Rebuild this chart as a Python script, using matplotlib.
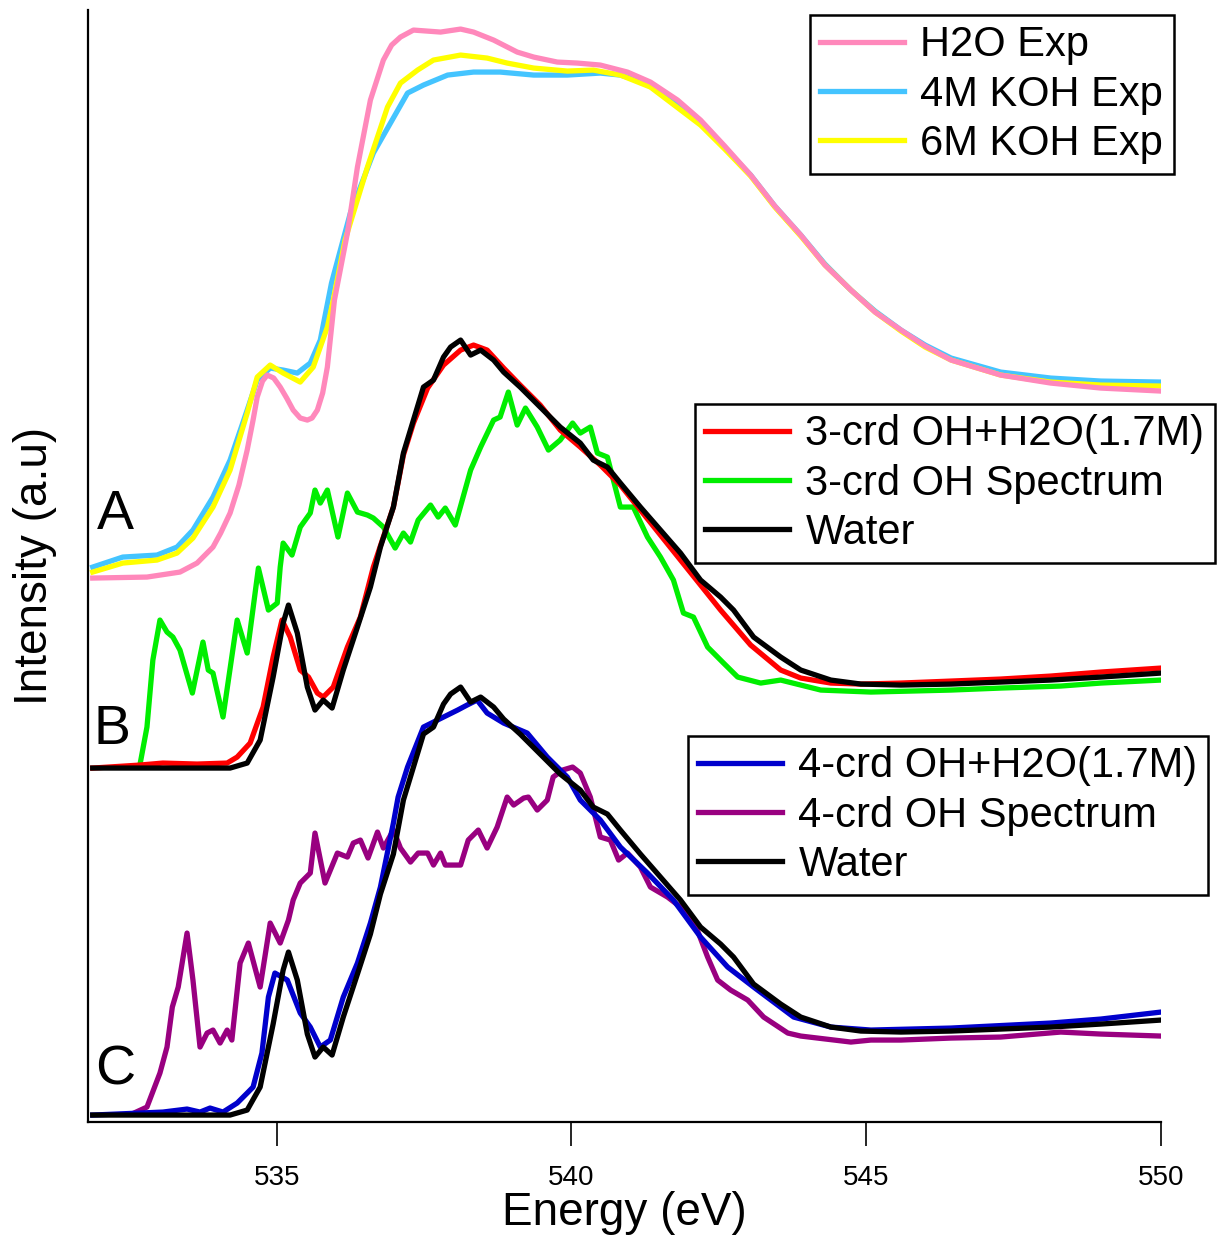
import matplotlib
matplotlib.use("Agg")
import matplotlib.pyplot as plt
from matplotlib.lines import Line2D

plt.rcParams['font.family'] = ['Liberation Sans', 'DejaVu Sans']

# ---- panel A : experimental spectra ----
h2o_e = [531.88, 532.80, 533.36, 533.65, 533.92, 534.05, 534.21, 534.36, 534.50, 534.60,
         534.67, 534.76, 534.84, 534.95, 535.06, 535.17, 535.28, 535.40, 535.52, 535.60,
         535.69, 535.78, 535.86, 535.98, 536.20, 536.37, 536.59, 536.81, 536.95, 537.10,
         537.32, 537.78, 538.12, 538.34, 538.68, 539.08, 539.36, 539.76, 540.10, 540.49,
         540.95, 541.34, 541.80, 542.19, 542.60, 543.04, 543.45, 543.89, 544.30, 544.74,
         545.15, 545.59, 546.00, 546.44, 547.28, 548.13, 548.98, 550.00]
h2o_i = [0.00, 0.01, 0.06, 0.15, 0.31, 0.45, 0.65, 0.93, 1.28, 1.58,
         1.81, 1.97, 2.03, 2.00, 1.91, 1.80, 1.68, 1.60, 1.58, 1.60,
         1.68, 1.85, 2.11, 2.78, 3.45, 4.11, 4.78, 5.18, 5.33, 5.41,
         5.48, 5.46, 5.49, 5.46, 5.38, 5.26, 5.21, 5.16, 5.15, 5.13,
         5.06, 4.96, 4.78, 4.58, 4.32, 4.03, 3.72, 3.43, 3.13, 2.88,
         2.66, 2.48, 2.32, 2.18, 2.03, 1.95, 1.90, 1.87]

koh4_e = [531.88, 532.39, 532.97, 533.31, 533.58, 533.92, 534.21, 534.50, 534.67, 534.89,
          535.11, 535.35, 535.57, 535.74, 535.93, 536.25, 536.64, 536.93, 537.22, 537.49,
          537.90, 538.34, 538.79, 539.36, 539.93, 540.49, 540.83, 541.22, 541.63, 542.19,
          542.60, 543.04, 543.45, 543.89, 544.30, 544.74, 545.15, 545.59, 546.00, 546.44,
          547.28, 548.13, 548.98, 550.00]
koh4_i = [0.11, 0.21, 0.23, 0.31, 0.48, 0.81, 1.18, 1.68, 1.98, 2.10,
          2.08, 2.05, 2.15, 2.38, 2.95, 3.65, 4.25, 4.55, 4.85, 4.93,
          5.03, 5.06, 5.06, 5.03, 5.03, 5.05, 5.03, 4.96, 4.81, 4.55,
          4.30, 4.03, 3.72, 3.43, 3.14, 2.88, 2.67, 2.48, 2.33, 2.20,
          2.06, 2.00, 1.97, 1.96]

koh6_e = [531.88, 532.39, 532.97, 533.31, 533.58, 533.92, 534.21, 534.50, 534.67, 534.89,
          535.11, 535.40, 535.62, 535.86, 535.96, 536.16, 536.54, 536.88, 537.10, 537.39,
          537.66, 538.12, 538.57, 538.91, 539.36, 539.93, 540.37, 540.83, 541.34, 542.19,
          542.60, 543.04, 543.45, 543.89, 544.30, 544.74, 545.15, 545.59, 546.00, 546.44,
          547.28, 548.13, 548.98, 550.00]
koh6_i = [0.06, 0.15, 0.18, 0.25, 0.40, 0.71, 1.08, 1.65, 2.01, 2.13,
          2.05, 1.96, 2.11, 2.51, 2.78, 3.38, 4.11, 4.71, 4.95, 5.08,
          5.18, 5.23, 5.20, 5.15, 5.10, 5.07, 5.08, 5.03, 4.91, 4.53,
          4.29, 4.02, 3.71, 3.42, 3.13, 2.88, 2.66, 2.47, 2.31, 2.18,
          2.03, 1.96, 1.93, 1.92]

# ---- water (used in B and C) ----
water_e = [531.88, 534.21, 534.50, 534.72, 534.94, 535.11, 535.20, 535.35, 535.52, 535.65,
           535.79, 535.94, 536.13, 536.37, 536.59, 536.76, 536.98, 537.15, 537.32, 537.49,
           537.66, 537.83, 537.95, 538.12, 538.29, 538.46, 538.68, 538.85, 539.13, 539.47,
           539.81, 540.15, 540.37, 540.61, 540.83, 541.17, 541.51, 541.85, 542.19, 542.53,
           542.75, 543.09, 543.55, 543.89, 544.40, 544.91, 545.59, 546.44, 547.28, 548.13,
           548.98, 550.00]
water_i = [0.00, 0.00, 0.05, 0.28, 0.91, 1.45, 1.63, 1.35, 0.81, 0.58,
           0.68, 0.60, 0.98, 1.41, 1.81, 2.21, 2.61, 3.15, 3.48, 3.81,
           3.88, 4.11, 4.21, 4.28, 4.13, 4.18, 4.08, 3.96, 3.81, 3.61,
           3.41, 3.25, 3.08, 3.01, 2.85, 2.61, 2.38, 2.15, 1.88, 1.71,
           1.58, 1.31, 1.11, 0.98, 0.88, 0.84, 0.83, 0.84, 0.86, 0.88,
           0.91, 0.95]

# ---- panel B : 3-coordinated OH ----
mix3_e = [531.88, 532.68, 533.07, 533.65, 534.16, 534.33, 534.55, 534.77, 534.94, 535.09,
          535.23, 535.40, 535.54, 535.69, 535.79, 535.96, 536.20, 536.42, 536.64, 536.98,
          537.15, 537.32, 537.56, 537.83, 538.12, 538.34, 538.57, 538.85, 539.13, 539.47,
          539.81, 540.15, 540.49, 540.83, 541.17, 541.51, 541.85, 542.19, 542.53, 543.04,
          543.55, 543.89, 544.40, 544.91, 545.59, 546.44, 547.28, 548.13, 548.98, 550.00]
mix3_i = [0.00, 0.03, 0.05, 0.04, 0.05, 0.11, 0.25, 0.61, 1.11, 1.48,
          1.31, 0.98, 0.91, 0.75, 0.71, 0.81, 1.21, 1.51, 2.01, 2.61,
          3.13, 3.45, 3.80, 4.03, 4.18, 4.23, 4.18, 4.00, 3.83, 3.63,
          3.38, 3.21, 3.03, 2.83, 2.58, 2.33, 2.08, 1.83, 1.58, 1.23,
          0.98, 0.90, 0.85, 0.84, 0.85, 0.87, 0.89, 0.92, 0.96, 1.00]

oh3_e = [532.68, 532.80, 532.90, 533.02, 533.14, 533.24, 533.36, 533.57, 533.75, 533.84,
         533.92, 534.09, 534.33, 534.50, 534.69, 534.86, 535.01, 535.06, 535.11, 535.26,
         535.40, 535.57, 535.65, 535.74, 535.86, 536.04, 536.20, 536.37, 536.54, 536.64,
         536.81, 537.01, 537.15, 537.27, 537.40, 537.61, 537.74, 537.86, 538.03, 538.29,
         538.46, 538.68, 538.79, 538.93, 539.08, 539.22, 539.42, 539.61, 539.81, 540.02,
         540.15, 540.32, 540.44, 540.61, 540.83, 541.05, 541.29, 541.51, 541.73, 541.90,
         542.07, 542.31, 542.58, 542.82, 543.21, 543.55, 544.23, 545.08, 546.44, 547.28,
         548.30, 548.98, 550.00]
oh3_i = [0.03, 0.41, 1.08, 1.48, 1.36, 1.31, 1.18, 0.75, 1.26, 0.98,
         0.95, 0.51, 1.48, 1.15, 2.00, 1.58, 1.65, 2.01, 2.25, 2.13,
         2.41, 2.55, 2.78, 2.65, 2.78, 2.31, 2.75, 2.56, 2.53, 2.50,
         2.41, 2.20, 2.35, 2.26, 2.48, 2.63, 2.51, 2.60, 2.43, 2.98,
         3.21, 3.48, 3.51, 3.76, 3.43, 3.60, 3.41, 3.18, 3.28, 3.45,
         3.35, 3.41, 3.15, 3.11, 2.61, 2.61, 2.31, 2.11, 1.88, 1.55,
         1.51, 1.21, 1.05, 0.91, 0.85, 0.88, 0.78, 0.76, 0.78, 0.80,
         0.82, 0.85, 0.88]

# ---- panel C : 4-coordinated OH ----
mix4_e = [531.88, 532.68, 533.07, 533.48, 533.70, 533.87, 534.09, 534.33, 534.50, 534.60,
          534.75, 534.86, 534.97, 535.18, 535.40, 535.57, 535.74, 535.91, 536.13, 536.37,
          536.59, 536.76, 536.98, 537.06, 537.22, 537.49, 537.83, 538.07, 538.23, 538.40,
          538.57, 538.85, 539.25, 539.59, 539.93, 540.15, 540.49, 540.83, 541.29, 541.73,
          542.19, 542.65, 543.09, 543.77, 544.40, 545.08, 546.44, 548.13, 548.98, 550.00]
mix4_i = [0.00, 0.02, 0.03, 0.06, 0.03, 0.07, 0.03, 0.12, 0.22, 0.28,
          0.62, 1.18, 1.42, 1.35, 1.02, 0.88, 0.68, 0.75, 1.18, 1.52,
          1.92, 2.28, 2.92, 3.18, 3.48, 3.88, 3.98, 4.05, 4.10, 4.15,
          4.02, 3.92, 3.82, 3.58, 3.38, 3.15, 2.95, 2.68, 2.42, 2.15,
          1.78, 1.48, 1.28, 0.98, 0.88, 0.85, 0.87, 0.92, 0.96, 1.03]

oh4_e = [532.58, 532.80, 533.02, 533.14, 533.23, 533.33, 533.48, 533.58, 533.70, 533.82,
         533.92, 534.04, 534.16, 534.24, 534.38, 534.52, 534.72, 534.89, 535.06, 535.20,
         535.28, 535.40, 535.57, 535.65, 535.82, 536.03, 536.20, 536.30, 536.42, 536.55,
         536.71, 536.81, 536.98, 537.10, 537.27, 537.40, 537.56, 537.66, 537.78, 537.86,
         538.12, 538.25, 538.42, 538.57, 538.74, 538.91, 539.02, 539.19, 539.27, 539.42,
         539.59, 539.69, 539.85, 540.02, 540.15, 540.32, 540.49, 540.66, 540.80, 540.95,
         541.17, 541.34, 541.63, 541.85, 542.07, 542.31, 542.48, 542.70, 542.99, 543.26,
         543.67, 543.89, 544.74, 545.08, 545.59, 546.44, 547.28, 548.30, 548.98, 550.00]
oh4_i = [0.02, 0.08, 0.42, 0.68, 1.08, 1.28, 1.82, 1.35, 0.68, 0.82,
         0.85, 0.72, 0.85, 0.75, 1.52, 1.72, 1.28, 1.92, 1.72, 1.95,
         2.15, 2.32, 2.42, 2.82, 2.32, 2.62, 2.58, 2.72, 2.75, 2.57,
         2.83, 2.67, 2.85, 2.67, 2.53, 2.62, 2.62, 2.50, 2.62, 2.50,
         2.50, 2.75, 2.85, 2.67, 2.88, 3.18, 3.10, 3.17, 3.18, 3.05,
         3.15, 3.38, 3.45, 3.48, 3.42, 3.18, 2.78, 2.75, 2.55, 2.62,
         2.48, 2.28, 2.18, 2.08, 1.95, 1.58, 1.35, 1.25, 1.15, 0.98,
         0.82, 0.79, 0.73, 0.75, 0.75, 0.77, 0.78, 0.83, 0.81, 0.79]

# vertical stacking offsets of the three panels
off_a, off_b, off_c = 5.44, 3.54, 0.07

c_pink, c_sky, c_yel = '#FF88BB', '#44C4FF', '#FFFF00'
c_red, c_green, c_blk = '#FF0000', '#00EE00', '#000000'
c_blue, c_purp = '#0000CC', '#990080'
lw = 3.8


def shift(vals, off):
    return [v + off for v in vals]


fig = plt.figure(figsize=(12.19, 12.43), dpi=100)
ax = fig.add_axes([0.0722, 0.0973, 0.8802, 0.8946])

# A
ax.plot(koh4_e, shift(koh4_i, off_a), color=c_sky, lw=lw, solid_joinstyle='round')
ax.plot(koh6_e, shift(koh6_i, off_a), color=c_yel, lw=lw, solid_joinstyle='round')
ax.plot(h2o_e, shift(h2o_i, off_a), color=c_pink, lw=lw, solid_joinstyle='round')
# B
ax.plot(oh3_e, shift(oh3_i, off_b), color=c_green, lw=lw, solid_joinstyle='round')
ax.plot(mix3_e, shift(mix3_i, off_b), color=c_red, lw=lw, solid_joinstyle='round')
ax.plot(water_e, shift(water_i, off_b), color=c_blk, lw=lw, solid_joinstyle='round')
# C
ax.plot(oh4_e, shift(oh4_i, off_c), color=c_purp, lw=lw, solid_joinstyle='round')
ax.plot(mix4_e, shift(mix4_i, off_c), color=c_blue, lw=lw, solid_joinstyle='round')
ax.plot(water_e, shift(water_i, off_c), color=c_blk, lw=lw, solid_joinstyle='round')

ax.set_xlim(531.8, 550)
ax.set_ylim(0, 11.12)
ax.set_xticks([535, 540, 545, 550])
ax.set_yticks([])
ax.tick_params(axis='x', direction='out', length=17, width=1.2, pad=14, labelsize=20)
for s in ['top', 'right']:
    ax.spines[s].set_visible(False)
for s in ['left', 'bottom']:
    ax.spines[s].set_linewidth(1.6)

ax.set_xlabel('Energy (eV)', fontsize=33, labelpad=0)
ax.set_ylabel('Intensity (a.u)', fontsize=33, labelpad=22)

ax.text(532.26, 6.07, 'A', fontsize=40, ha='center', va='center')
ax.text(532.21, 3.92, 'B', fontsize=40, ha='center', va='center')
ax.text(532.26, 0.52, 'C', fontsize=40, ha='center', va='center')


def make_legend(labels, colors, anchor):
    handles = [Line2D([], [], color=c, lw=lw) for c in colors]
    leg = fig.legend(handles, labels, loc='upper left', bbox_to_anchor=anchor,
                     bbox_transform=fig.transFigure, fontsize=30, frameon=True,
                     fancybox=False, edgecolor='black', framealpha=1,
                     handlelength=2.0, handletextpad=0.4, labelspacing=0.22,
                     borderpad=0.25, borderaxespad=0)
    leg.get_frame().set_linewidth(1.8)
    return leg


make_legend(['H2O Exp', '4M KOH Exp', '6M KOH Exp'], [c_pink, c_sky, c_yel],
            (0.6645, 0.9879))
make_legend(['3-crd OH+H2O(1.7M)', '3-crd OH Spectrum', 'Water'], [c_red, c_green, c_blk],
            (0.5701, 0.675))
make_legend(['4-crd OH+H2O(1.7M)', '4-crd OH Spectrum', 'Water'], [c_blue, c_purp, c_blk],
            (0.5644, 0.4079))

fig.savefig('out.png', dpi=100)
